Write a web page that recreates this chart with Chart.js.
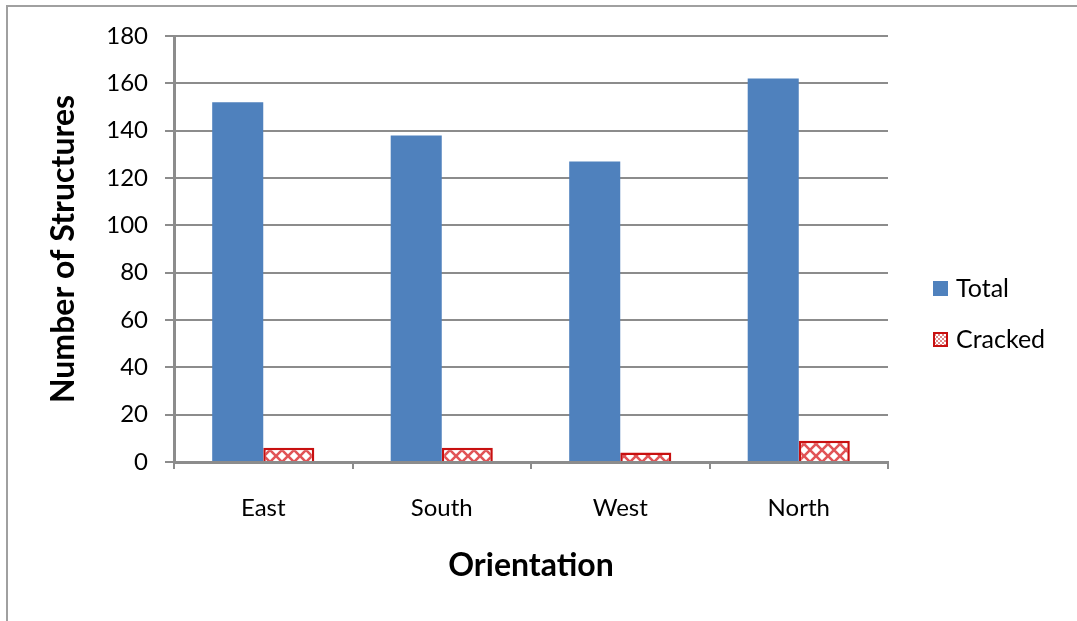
<!DOCTYPE html>
<html>
<head>
<meta charset="utf-8">
<title>Structures by orientation</title>
<script src="https://cdn.jsdelivr.net/npm/chart.js@4.4.1/dist/chart.umd.min.js"></script>
<style>
  html, body { margin: 0; padding: 0; background: #fff; overflow: hidden; }
  #frame {
    position: absolute; left: 6px; top: 5px; width: 1200px; height: 800px;
    border: 2px solid #a0a0a0; box-sizing: border-box;
  }
  #chartBox { position: absolute; left: 0; top: 0; width: 1077px; height: 621px; }
</style>
</head>
<body>
<div id="frame"></div>
<div id="chartBox"><canvas id="myChart" width="1077" height="621"></canvas></div>
<script>
var categorias = ['East', 'South', 'West', 'North'];
var totalEstructuras = [152, 138, 127, 162];
var estructurasAgrietadas = [6, 6, 4, 9];
var ejeY = [0, 20, 40, 60, 80, 100, 120, 140, 160, 180];

var azul = '#4f81bd';
var rojo = '#c81010';
var gris = '#8c8c8c';
var fuente = 'Lato, "Open Sans", sans-serif';

// red cross-hatch fill for the cracked bars
function tramaCruzada() {
    var c = document.createElement('canvas');
    c.width = 12; c.height = 12;
    var g = c.getContext('2d');
    g.fillStyle = '#ffffff';
    g.fillRect(0, 0, 12, 12);
    g.strokeStyle = 'rgba(215, 25, 30, 0.75)';
    g.lineWidth = 2.6;
    g.beginPath();
    g.moveTo(-1, -1); g.lineTo(13, 13);
    g.moveTo(13, -1); g.lineTo(-1, 13);
    g.stroke();
    return g.createPattern(c, 'repeat');
}

// finer checker used for the legend swatch
function tramaLeyenda() {
    var c = document.createElement('canvas');
    c.width = 4; c.height = 4;
    var g = c.getContext('2d');
    g.fillStyle = '#ffffff';
    g.fillRect(0, 0, 4, 4);
    g.fillStyle = '#e08888';
    g.fillRect(0, 0, 2, 2);
    g.fillRect(2, 2, 2, 2);
    return g.createPattern(c, 'repeat');
}

var leyendaDerecha = {
    id: 'leyendaDerecha',
    afterDraw: function (chart) {
        var ctx = chart.ctx;
        var items = [
            { texto: chart.data.datasets[0].label, y: 289, relleno: azul, borde: null },
            { texto: chart.data.datasets[1].label, y: 340, relleno: tramaLeyenda(), borde: rojo }
        ];
        ctx.save();
        ctx.font = '25px ' + fuente;
        ctx.textBaseline = 'middle';
        items.forEach(function (it) {
            ctx.fillStyle = it.relleno;
            ctx.fillRect(933, it.y - 8, 15, 15);
            if (it.borde) {
                ctx.strokeStyle = it.borde;
                ctx.lineWidth = 2;
                ctx.strokeRect(934, it.y - 7, 13, 13);
            }
            ctx.fillStyle = '#000';
            ctx.fillText(it.texto, 956, it.y);
        });
        ctx.restore();
    }
};

var ctx = document.getElementById('myChart').getContext('2d');
var chart = new Chart(ctx, {
    type: 'bar',
    data: {
        labels: categorias,
        datasets: [{
            label: 'Total',
            backgroundColor: azul,
            borderWidth: 0,
            data: totalEstructuras
        }, {
            label: 'Cracked',
            backgroundColor: tramaCruzada(),
            borderColor: rojo,
            borderWidth: 2.5,
            data: estructurasAgrietadas
        }]
    },
    options: {
        responsive: false,
        animation: false,
        events: [],
        categoryPercentage: 0.572,
        barPercentage: 1,
        layout: { padding: { left: 0, top: 36, right: 189, bottom: 0 } },
        plugins: {
            legend: { display: false },
            tooltip: { enabled: false }
        },
        scales: {
            x: {
                afterFit: function (s) { s.height = 159; },
                grid: { drawOnChartArea: false, drawTicks: true, tickLength: 7, color: gris, lineWidth: 2 },
                border: { color: gris, width: 3 },
                ticks: { color: '#000', padding: 25, font: { family: fuente, size: 24 } },
                title: {
                    display: true, text: 'Orientation', color: '#000',
                    font: { family: fuente, size: 32, weight: 'bold' },
                    padding: { top: 0, bottom: 36 }
                }
            },
            y: {
                min: ejeY[0],
                max: ejeY[ejeY.length - 1],
                afterFit: function (s) { s.width = 174; },
                afterBuildTicks: function (s) {
                    s.ticks = ejeY.map(function (v) { return { value: v }; });
                },
                grid: { color: gris, lineWidth: 2, tickLength: 9 },
                border: { color: gris, width: 3 },
                ticks: { color: '#000', padding: 17, font: { family: fuente, size: 24 } },
                title: {
                    display: true, text: 'Number of Structures', color: '#000',
                    font: { family: fuente, size: 32, weight: 'bold' },
                    padding: { top: 44, bottom: 0 }
                }
            }
        }
    },
    plugins: [leyendaDerecha]
});
</script>
</body>
</html>
